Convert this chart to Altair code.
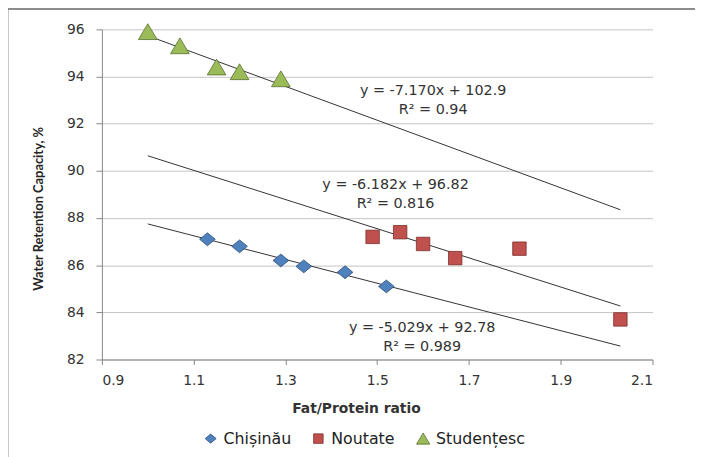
import altair as alt
import pandas as pd

# ---------------- data ----------------
series_names = ["Chișinău", "Noutate", "Studențesc"]

chisinau_x = [1.13, 1.20, 1.29, 1.34, 1.43, 1.52]
chisinau_y = [87.1, 86.8, 86.2, 85.95, 85.7, 85.1]

noutate_x = [1.49, 1.55, 1.60, 1.67, 1.81, 2.03]
noutate_y = [87.2, 87.4, 86.9, 86.3, 86.7, 83.7]

studentesc_x = [1.00, 1.07, 1.15, 1.20, 1.29]
studentesc_y = [95.9, 95.3, 94.4, 94.2, 93.9]

# linear trend lines (end points as drawn)
trend_x = [1.0, 2.03]
trend_chisinau_y = [87.75, 82.57]
trend_noutate_y = [90.64, 84.27]
trend_studentesc_y = [95.73, 88.35]

# equation labels
eq_labels = ["y = -7.170x + 102.9", "R² = 0.94",
             "y = -6.182x + 96.82", "R² = 0.816",
             "y = -5.029x + 92.78", "R² = 0.989"]
eq_x = [1.622, 1.622, 1.540, 1.540, 1.598, 1.598]
eq_y = [93.40, 92.60, 89.38, 88.58, 83.34, 82.54]

x_ticks = [0.9, 1.1, 1.3, 1.5, 1.7, 1.9, 2.1]
y_ticks = [82, 84, 86, 88, 90, 92, 94, 96]

# ---------------- tables ----------------
points = pd.DataFrame({
    "ratio": chisinau_x + noutate_x + studentesc_x,
    "wrc": chisinau_y + noutate_y + studentesc_y,
    "series": [series_names[0]] * len(chisinau_x)
              + [series_names[1]] * len(noutate_x)
              + [series_names[2]] * len(studentesc_x),
})

trends = pd.DataFrame({
    "ratio": trend_x * 3,
    "wrc": trend_chisinau_y + trend_noutate_y + trend_studentesc_y,
    "series": [s for s in series_names for _ in trend_x],
})

labels = pd.DataFrame({"ratio": eq_x, "wrc": eq_y, "label": eq_labels})

# ---------------- scales / axes ----------------
FONT = "DejaVu Sans"
x_scale = alt.Scale(domain=[0.9, 2.1], nice=False, zero=False)
y_scale = alt.Scale(domain=[82, 96], nice=False, zero=False)

x_enc = alt.X("ratio:Q", scale=x_scale, axis=alt.Axis(
    values=x_ticks, format=".1f", grid=False, tickSize=5, labelPadding=9,
    labelFont=FONT, labelFontSize=14, labelColor="#333333",
    domainColor="#868686", tickColor="#868686",
    title="Fat/Protein ratio", titleFont=FONT, titleFontSize=14, titleFontWeight="bold",
    titleColor="#333333", titleX=257, titleY=50, titleAnchor="start", titleAlign="center",
    titleBaseline="middle"))
y_enc = alt.Y("wrc:Q", scale=y_scale, axis=alt.Axis(
    values=y_ticks, format="d", grid=True, gridColor="#c4c4c4", tickSize=6, labelPadding=12,
    labelFont=FONT, labelFontSize=14, labelColor="#333333",
    domainColor="#868686", tickColor="#868686",
    title="Water Retention Capacity, %", titleFont="Lato", titleFontSize=13,
    titleFontWeight="bold", titleColor="#262626", titleX=-64, titleY=181,
    titleAngle=270, titleAlign="center", titleBaseline="middle"))

color_scale = alt.Scale(domain=series_names, range=["#4F81BD", "#C0504D", "#9BBB59"])
# marker outlines: diamond, square, triangle (unit = sqrt(size)/2)
shape_scale = alt.Scale(domain=series_names, range=[
    "M-1,0L0,-0.82L1,0L0,0.82Z",
    "M-0.86,-0.86L0.86,-0.86L0.86,0.86L-0.86,0.86Z",
    "M0,-1.02L1.2,1.0L-1.2,1.0Z",
])
stroke_scale = alt.Scale(domain=series_names, range=["#2c4d75", "#7a2f2d", "#56702f"])

legend = alt.Legend(title=None, orient="none", legendX=102, legendY=406,
                    direction="horizontal", symbolSize=125, labelFont=FONT,
                    labelFontSize=16, labelColor="#222222", columnPadding=19,
                    labelOffset=5, padding=0, symbolStrokeColor="#444444",
                    symbolStrokeWidth=0.8)

# ---------------- layers ----------------
frame = alt.Chart(pd.DataFrame({"k": [0]})).mark_rect(
    filled=False, stroke="#8c8c8c", strokeWidth=2, clip=False
).encode(x=alt.value(-95.5), x2=alt.value(720), y=alt.value(-20.5), y2=alt.value(520))

trend_lines = alt.Chart(trends).mark_line(color="#333333", strokeWidth=1).encode(
    x=x_enc, y=y_enc, detail="series:N")

pts = alt.Chart(points).mark_point(filled=True, opacity=1, strokeWidth=0.8, size=250).encode(
    x=x_enc, y=y_enc,
    color=alt.Color("series:N", scale=color_scale, legend=legend),
    shape=alt.Shape("series:N", scale=shape_scale, legend=legend),
    stroke=alt.Stroke("series:N", scale=stroke_scale, legend=None),
)

texts = alt.Chart(labels).mark_text(font=FONT, fontSize=14.5, color="#333333",
                                    align="center", baseline="middle").encode(
    x=x_enc, y=y_enc, text="label:N")

chart = alt.layer(frame, trend_lines, pts, texts).properties(
    width=557, height=334,
    background="white",
    autosize=alt.AutoSizeParams(type="none"),
    padding={"left": 95, "top": 19, "right": 43, "bottom": 96},
).configure_view(stroke=None).configure_axis(
    labelFont=FONT, labelFontSize=14, labelColor="#333333",
    domainColor="#868686", tickColor="#868686", domainWidth=1,
)

chart.save("out.html", embed_options={"renderer": "svg", "actions": False})
